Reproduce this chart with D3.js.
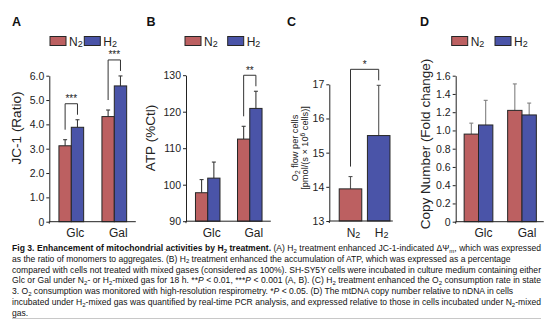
<!DOCTYPE html>
<html><head><meta charset="utf-8">
<script src="https://cdn.jsdelivr.net/npm/d3@7"></script>
<style>
html,body{margin:0;padding:0;background:#fff;}
svg{display:block;font-family:"Liberation Sans",Arial,Helvetica,sans-serif;}
</style></head><body>
<svg id="fig" width="554" height="321"></svg>
<script>
// Culture media and gas treatments
const media = ["Glc", "Gal"];
const gases = ["N2", "H2"];

// (A) JC-1 ratio (mean, SEM)
const jc1N2 = [3.12, 4.32];
const jc1H2 = [3.88, 5.58];
const jc1N2Err = [0.25, 0.27];
const jc1H2Err = [0.31, 0.41];
const jc1Ticks = [0, 1, 2, 3, 4, 5, 6];
const jc1Sig = ["***", "***"];

// (B) ATP, % of untreated control
const atpN2 = [97.8, 112.5];
const atpH2 = [101.8, 120.9];
const atpN2Err = [3.6, 3.5];
const atpH2Err = [4.4, 4.7];
const atpTicks = [90, 100, 110, 120, 130];
const atpSig = [null, "**"];

// (C) O2 flow per cells, state 3
const o2Flow = [13.94, 15.5];
const o2FlowErr = [0.36, 1.47];
const o2Ticks = [13, 14, 15, 16, 17];
const o2Sig = "*";

// (D) mtDNA copy number, fold change
const copyN2 = [0.96, 1.22];
const copyH2 = [1.06, 1.17];
const copyN2Err = [0.12, 0.29];
const copyH2Err = [0.27, 0.13];
const copyTicks = [0, 0.2, 0.4, 0.6, 0.8, 1.0, 1.2, 1.4, 1.6];

const colors = { N2: "#bc6061", H2: "#4a54a8" };
const svg = d3.select("#fig");

// text with a small trailing digit, e.g. N2 / H2
function subLabel(sel, name, mainSize, subSize) {
  sel.append("tspan").text(name.slice(0, 1)).attr("font-size", mainSize);
  sel.append("tspan").text(name.slice(1)).attr("font-size", subSize).attr("dy", 1);
}

function drawPanel(p) {
  const g = svg.append("g");
  const x = d3.scaleBand().domain(p.cats).range(p.xRange)
    .paddingInner(p.pad).paddingOuter(p.pad / 2);
  const inner = p.grouped
    ? d3.scaleBand().domain(gases).range([0, x.bandwidth()])
    : null;
  const y = d3.scaleLinear().domain(p.domain).range(p.yRange);

  const bx = d => p.grouped ? x(d.cat) + inner(d.gas) : x(d.cat);
  const bw = p.grouped ? inner.bandwidth() : x.bandwidth();
  const base = y(p.domain[0]);

  // error bars (upper only)
  const eg = g.append("g").attr("stroke", p.errColor).attr("stroke-width", 1.1);
  p.bars.forEach(d => {
    const cx = bx(d) + bw / 2;
    eg.append("line").attr("x1", cx).attr("x2", cx).attr("y1", y(d.v)).attr("y2", y(d.v + d.e));
    eg.append("line").attr("x1", cx - 2).attr("x2", cx + 2).attr("y1", y(d.v + d.e)).attr("y2", y(d.v + d.e));
  });

  // bars
  g.append("g").selectAll("rect").data(p.bars).join("rect")
    .attr("x", d => bx(d)).attr("width", bw)
    .attr("y", d => y(d.v)).attr("height", d => base - y(d.v))
    .attr("fill", d => colors[d.gas])
    .attr("stroke", "#262626").attr("stroke-width", 1);

  // y axis
  const ya = g.append("g").attr("transform", `translate(${p.axisX},0)`)
    .call(d3.axisLeft(y).tickValues(p.ticks).tickFormat(p.fmt)
      .tickSize(3).tickSizeOuter(0).tickPadding(2));
  ya.select(".domain").attr("stroke", "#222");
  ya.selectAll(".tick line").attr("stroke", "#222");
  ya.selectAll(".tick text").attr("font-size", 10.5).attr("fill", "#222")
    .attr("font-family", "Liberation Sans, Arial, sans-serif");

  // x axis
  g.append("line").attr("x1", p.axisX).attr("x2", p.xRange[1])
    .attr("y1", base).attr("y2", base).attr("stroke", "#222");
  g.append("line").attr("x1", p.axisX).attr("x2", p.axisX)
    .attr("y1", base).attr("y2", base + 2).attr("stroke", "#222");

  // category labels
  p.cats.forEach(c => {
    const t = g.append("text").attr("x", x(c) + x.bandwidth() / 2 + p.catShift)
      .attr("y", 237).attr("text-anchor", "middle").attr("fill", "#222");
    if (p.grouped) t.attr("font-size", 12).text(c);
    else subLabel(t, c, 12, 9);
  });

  // significance brackets
  p.sig.forEach(s => {
    const left = s.left, right = s.right;
    const lx = bx(left) + bw / 2, rx = bx(right) + bw / 2;
    const lt = y(left.v + left.e), rt = y(right.v + right.e);
    const top = Math.min(lt, rt) - 16;
    g.append("path")
      .attr("d", `M${lx},${lt - 10}V${top}H${rx}V${rt - 5}`)
      .attr("fill", "none").attr("stroke", "#333").attr("stroke-width", 1);
    g.append("text").attr("x", (lx + rx) / 2).attr("y", top - 1.5)
      .attr("text-anchor", "middle").attr("font-size", 10).attr("fill", "#222")
      .text(s.label);
  });

  // legend
  if (p.legendX) {
    gases.forEach((gs, i) => {
      const lx = p.legendX[i];
      g.append("rect").attr("x", lx).attr("y", 36.5).attr("width", 16).attr("height", 9)
        .attr("fill", colors[gs]).attr("stroke", "#262626").attr("stroke-width", 1);
      const t = g.append("text").attr("x", lx + 19).attr("y", 45.5).attr("fill", "#222");
      subLabel(t, gs, 12, 9);
    });
  }

  // y axis title
  p.yTitle.forEach((line, i) => {
    const t = g.append("text")
      .attr("transform", `translate(${p.yTitleX[i]},${p.yTitleY}) rotate(-90)`)
      .attr("text-anchor", "middle").attr("font-size", p.yTitleSize).attr("fill", "#222");
    line.forEach(seg => {
      const s = t.append("tspan").text(seg.t);
      if (seg.sub) s.attr("font-size", p.yTitleSize * 0.72).attr("dy", 1.5);
      if (seg.sup) s.attr("font-size", p.yTitleSize * 0.72).attr("dy", -3);
      if (seg.back) s.attr("dy", seg.back);
    });
  });

  // panel letter
  g.append("text").attr("x", p.letterX).attr("y", 26).attr("font-size", 12.5)
    .attr("font-weight", "bold").attr("fill", "#111").text(p.letter);
}

function grouped(n2, h2, n2e, h2e) {
  const out = [];
  media.forEach((m, i) => {
    out.push({ cat: m, gas: "N2", v: n2[i], e: n2e[i] });
    out.push({ cat: m, gas: "H2", v: h2[i], e: h2e[i] });
  });
  return out;
}
function sigPairs(bars, labels) {
  const out = [];
  media.forEach((m, i) => {
    if (!labels[i]) return;
    out.push({ left: bars[2 * i], right: bars[2 * i + 1], label: labels[i] });
  });
  return out;
}

const oneDec = d => d === 0 ? "0" : d3.format(".1f")(d);

// (A)
const barsA = grouped(jc1N2, jc1H2, jc1N2Err, jc1H2Err);
drawPanel({
  letter: "A", letterX: 12, grouped: true, cats: media, bars: barsA,
  xRange: [49.8, 135.8], pad: 0.425, axisX: 49.3,
  domain: [0, 6], yRange: [221.7, 75.7], ticks: jc1Ticks, fmt: oneDec,
  errColor: "#3a3a3a", sig: sigPairs(barsA, jc1Sig), legendX: [50, 84.3],
  yTitle: [[{ t: "JC-1 (Ratio)" }]], yTitleX: [20.5], yTitleY: 128, yTitleSize: 13.5,
  catShift: 4
});

// (B)
const barsB = grouped(atpN2, atpH2, atpN2Err, atpH2Err);
drawPanel({
  letter: "B", letterX: 146.5, grouped: true, cats: media, bars: barsB,
  xRange: [186.7, 270.8], pad: 0.417, axisX: 186,
  domain: [90, 130], yRange: [221.2, 75.2], ticks: atpTicks, fmt: d3.format("d"),
  errColor: "#3a3a3a", sig: sigPairs(barsB, atpSig), legendX: [185, 227.7],
  yTitle: [[{ t: "ATP (%Ctl)" }]], yTitleX: [155], yTitleY: 138, yTitleSize: 13.5,
  catShift: 4
});

// (C)
const barsC = gases.map((gs, i) => ({ cat: gs, gas: gs, v: o2Flow[i], e: o2FlowErr[i] }));
drawPanel({
  letter: "C", letterX: 287, grouped: false, cats: gases, bars: barsC,
  xRange: [336.4, 392.8], pad: 0.2, axisX: 329.3,
  domain: [13, 17], yRange: [221, 84.3], ticks: o2Ticks, fmt: d3.format("d"),
  errColor: "#555", sig: [{ left: barsC[0], right: barsC[1], label: o2Sig }], legendX: null,
  yTitle: [
    [{ t: "O" }, { t: "2", sub: true }, { t: " flow per cells", back: -1.5 }],
    [{ t: "[pmol/(s × 10" }, { t: "6", sup: true }, { t: " cells)]", back: 3 }]
  ],
  yTitleX: [298, 307.5], yTitleY: 148, yTitleSize: 9.2,
  catShift: 3
});

// (D)
const barsD = grouped(copyN2, copyH2, copyN2Err, copyH2Err);
drawPanel({
  letter: "D", letterX: 420, grouped: true, cats: media, bars: barsD,
  xRange: [456.75, 543.75], pad: 0.34, axisX: 455.7,
  domain: [0, 1.6], yRange: [221.7, 75.7], ticks: copyTicks, fmt: oneDec,
  errColor: "#808080", sig: [], legendX: [451.7, 495],
  yTitle: [[{ t: "Copy Number (Fold change)" }]], yTitleX: [430], yTitleY: 144, yTitleSize: 13.5,
  catShift: 5
});

// figure caption
const caption = [
  [{ t: "Fig 3. Enhancement of mitochondrial activities by H", b: 1 }, { t: "2", b: 1, sub: 1 }, { t: " treatment.", b: 1 },
   { t: " (A) H" }, { t: "2", sub: 1 }, { t: " treatment enhanced JC-1-indicated ΔΨ" }, { t: "m", sub: 1 }, { t: ", which was expressed" }],
  [{ t: "as the ratio of monomers to aggregates. (B) H" }, { t: "2", sub: 1 }, { t: " treatment enhanced the accumulation of ATP, which was expressed as a percentage" }],
  [{ t: "compared with cells not treated with mixed gases (considered as 100%). SH-SY5Y cells were incubated in culture medium containing either" }],
  [{ t: "Glc or Gal under N" }, { t: "2", sub: 1 }, { t: "- or H" }, { t: "2", sub: 1 }, { t: "-mixed gas for 18 h. **" }, { t: "P", i: 1 }, { t: " < 0.01, ***" }, { t: "P", i: 1 },
   { t: " < 0.001 (A, B). (C) H" }, { t: "2", sub: 1 }, { t: " treatment enhanced the O" }, { t: "2", sub: 1 }, { t: " consumption rate in state" }],
  [{ t: "3. O" }, { t: "2", sub: 1 }, { t: " consumption was monitored with high-resolution respirometry. *" }, { t: "P", i: 1 },
   { t: " < 0.05. (D) The mtDNA copy number relative to nDNA in cells" }],
  [{ t: "incubated under H" }, { t: "2", sub: 1 }, { t: "-mixed gas was quantified by real-time PCR analysis, and expressed relative to those in cells incubated under N" },
   { t: "2", sub: 1 }, { t: "-mixed" }],
  [{ t: "gas." }]
];
// lines that run to the right margin of the text column
const fullLines = [0, 2, 3, 5];

const capG = svg.append("g").attr("fill", "#111");
const capLines = caption.map((segs, li) => {
  const t = capG.append("text").attr("x", 12).attr("y", 251 + li * 10.8).attr("font-size", 8.5);
  let shifted = false;
  segs.forEach(s => {
    const ts = t.append("tspan").text(s.t);
    if (s.b) ts.attr("font-weight", "bold");
    if (s.i) ts.attr("font-style", "italic");
    if (s.sub) { ts.attr("font-size", 6).attr("dy", 1.5).classed("sub", true); shifted = true; }
    else if (shifted) { ts.attr("dy", -1.5); shifted = false; }
  });
  return t;
});
// size the caption so an all-regular full line spans the text column
const w3 = capLines[2].node().getComputedTextLength();
const fs = 8.5 * 529 / w3;
capLines.forEach(t => {
  t.attr("font-size", fs);
  t.selectAll("tspan.sub").attr("font-size", fs * 0.7);
});
fullLines.forEach(i => {
  capLines[i].attr("textLength", 529).attr("lengthAdjust", "spacing");
});

svg.append("line").attr("x1", 12).attr("x2", 541).attr("y1", 318.5).attr("y2", 318.5)
  .attr("stroke", "#c8c8c8").attr("stroke-width", 1);
</script>
</body></html>
